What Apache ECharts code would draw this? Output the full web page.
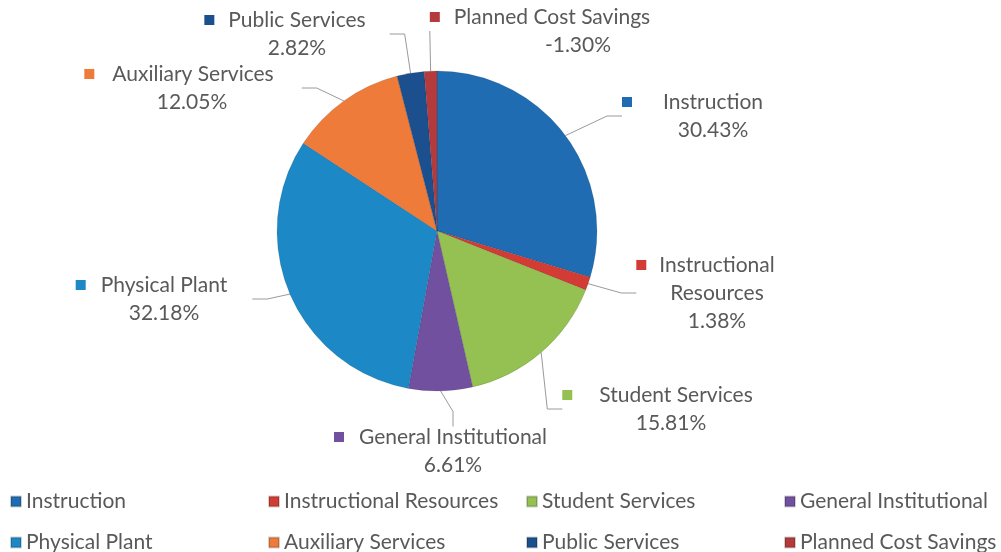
<!DOCTYPE html>
<html>
<head>
<meta charset="utf-8">
<script src="https://cdn.jsdelivr.net/npm/echarts@6/dist/echarts.min.js"></script>
<style>
  html, body { margin: 0; padding: 0; background: #ffffff; }
  #chart { width: 1001px; height: 552px; }
</style>
</head>
<body>
<div id="chart"></div>
<script>
// Budget shares by function (percent of total)
const categories = [
  'Instruction', 'Instructional Resources', 'Student Services', 'General Institutional',
  'Physical Plant', 'Auxiliary Services', 'Public Services', 'Planned Cost Savings'
];
const shares = [30.43, 1.38, 15.81, 6.61, 32.18, 12.05, 2.82, -1.30];

// Slice colours, in category order
const sliceColors = ['#1f6cb2', '#d23c34', '#94c152', '#7150a0', '#1c88c6', '#ee7b39', '#1c4f8e', '#b53a3c'];

// Label text lines (names that wrap are split here)
const labelNames = [
  'Instruction', 'Instructional\nResources', 'Student Services', 'General Institutional',
  'Physical Plant', 'Auxiliary Services', 'Public Services', 'Planned Cost Savings'
];

// Label placement: centre x of the name, centre y of its first line,
// gap between key and name, horizontal shift of the percentage line
const labelSpots = [
  [713, 102, 31, 0], [717, 265, 13, 0], [676, 395, 27, -5], [453, 437, 15, 0],
  [164, 285, 15, 0], [193, 74, 18, -1], [297, 20, 14, 0], [552, 17, 14, 26]
];

const FONT = 'Lato';
const FONT_SIZE = 21;
const LINE_H = 28;
const TEXT_COLOR = '#595959';
const KEY = 10;

const rich = { t: { fontFamily: FONT, fontSize: FONT_SIZE, color: TEXT_COLOR, lineHeight: LINE_H } };
labelSpots.forEach(function (s, i) {
  rich['k' + i] = { width: KEY, height: KEY, backgroundColor: sliceColors[i], verticalAlign: 'middle', lineHeight: LINE_H };
  rich['g' + i] = { width: s[2], height: KEY, lineHeight: LINE_H };
  rich['s' + i] = { width: KEY + s[2], height: KEY, lineHeight: LINE_H };
  const shift = s[3] * 2;
  rich['p' + i] = {
    fontFamily: FONT, fontSize: FONT_SIZE, color: TEXT_COLOR, lineHeight: LINE_H,
    padding: shift >= 0 ? [0, 0, 0, shift] : [0, -shift, 0, 0]
  };
});

function labelText(i) {
  const lines = labelNames[i].split('\n');
  const first = '{k' + i + '|}{g' + i + '|}{t|' + lines[0] + '}{s' + i + '|}';
  const rest = lines.slice(1).map(function (l) { return '{t|' + l + '}'; });
  const pct = '{p' + i + '|' + shares[i].toFixed(2) + '%}';
  return [first].concat(rest, [pct]).join('\n');
}

const pieData = categories.map(function (name, i) {
  return { name: name, value: Math.abs(shares[i]), itemStyle: { color: sliceColors[i] } };
});

const chart = echarts.init(document.getElementById('chart'), null, { renderer: 'canvas' });
chart.setOption({
  animation: false,
  backgroundColor: '#ffffff',
  legend: {
    left: 10,
    top: 491,
    width: 1040,
    padding: 0,
    itemWidth: 10,
    itemHeight: 10,
    itemGap: 20,
    icon: 'rect',
    selectedMode: false,
    data: categories.slice(0, 4).concat([''], categories.slice(4)),
    textStyle: {
      fontFamily: FONT, fontSize: FONT_SIZE, color: TEXT_COLOR,
      lineHeight: 20, width: 222, overflow: 'none'
    }
  },
  series: [{
    type: 'pie',
    center: [437, 231],
    radius: 160,
    startAngle: 90,
    clockwise: true,
    avoidLabelOverlap: false,
    silent: true,
    data: pieData,
    itemStyle: { borderColor: 'rgba(0,0,0,0.18)', borderWidth: 0.6 },
    label: {
      show: true,
      formatter: function (p) { return labelText(p.dataIndex); },
      rich: rich,
      align: 'center'
    },
    labelLine: {
      show: true,
      length: 15,
      length2: 15,
      lineStyle: { color: '#9a9a9a', width: 1 }
    },
    labelLayout: function (p) {
      const s = labelSpots[p.dataIndex];
      return { x: s[0], y: s[1] - LINE_H / 2, align: 'center', verticalAlign: 'top' };
    },
    emphasis: { disabled: true }
  }]
});
</script>
</body>
</html>
